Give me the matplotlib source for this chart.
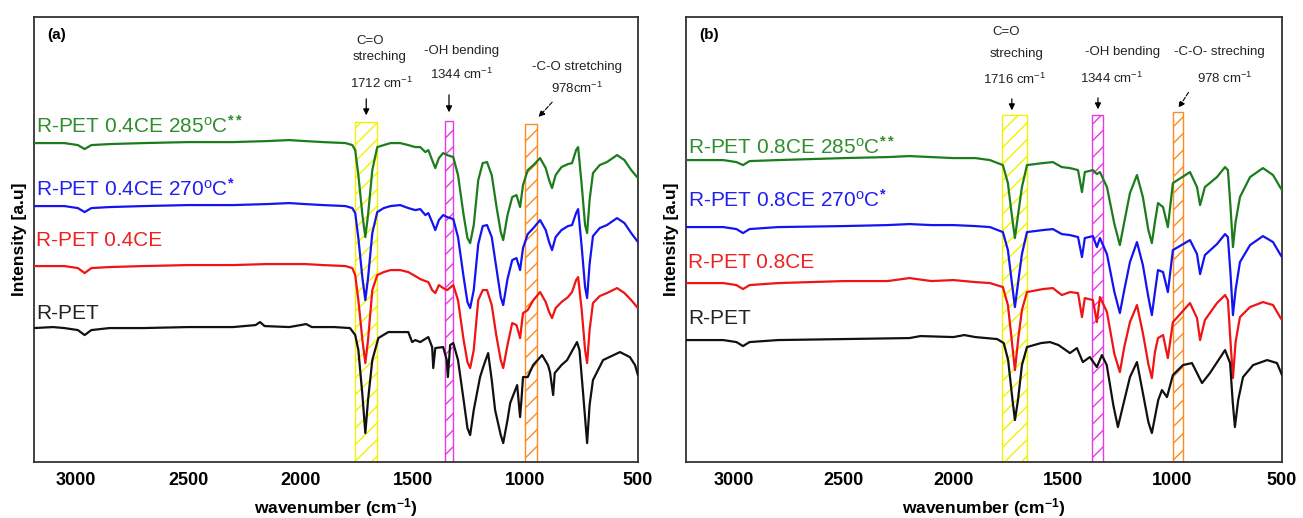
import matplotlib

matplotlib.use("Agg")
import matplotlib.pyplot as plt
from matplotlib.patches import Rectangle

plt.rcParams["font.family"] = ["Liberation Sans", "DejaVu Sans"]
plt.rcParams["mathtext.fontset"] = "custom"
plt.rcParams["mathtext.rm"] = "Liberation Sans"
plt.rcParams["mathtext.it"] = "Liberation Sans:italic"
plt.rcParams["mathtext.bf"] = "Liberation Sans:bold"
plt.rcParams["hatch.linewidth"] = 1.0

# ---- panel (a): 0.4CE ----
a_wn = [3185, 3050, 2990, 2960, 2930, 2850, 2700, 2500, 2300, 2150,
        2050, 1980, 1900, 1800, 1770, 1757, 1743, 1725, 1712, 1700,
        1681, 1659, 1630, 1600, 1557, 1521, 1490, 1468, 1445, 1432,
        1415, 1401, 1385, 1366, 1348, 1321, 1300, 1275, 1258, 1246,
        1230, 1210, 1190, 1171, 1150, 1130, 1110, 1099, 1080, 1059,
        1040, 1024, 1011, 990, 965, 935, 910, 895, 882, 866,
        840, 811, 793, 775, 766, 750, 735, 726, 715, 700,
        670, 638, 593, 560, 530, 500]
a_green = [319, 319, 317, 313, 317, 318, 319, 320, 320, 321,
           322, 321, 320, 319, 317, 312, 287, 247, 225, 247,
           292, 315, 317, 319, 319, 317, 315, 315, 310, 312,
           302, 294, 304, 309, 307, 305, 287, 247, 224, 219,
           237, 282, 299, 300, 287, 257, 230, 222, 247, 265,
           267, 255, 277, 292, 297, 304, 294, 282, 274, 287,
           295, 298, 299, 312, 315, 277, 237, 229, 262, 289,
           297, 300, 307, 302, 292, 284]
a_blue = [256, 256, 254, 250, 254, 255, 256, 257, 257, 258,
          259, 258, 257, 256, 254, 249, 224, 184, 162, 184,
          229, 250, 254, 256, 257, 254, 252, 253, 247, 249,
          240, 232, 242, 247, 245, 243, 225, 185, 160, 154,
          172, 218, 236, 237, 225, 195, 165, 157, 183, 202,
          204, 192, 214, 228, 234, 242, 232, 220, 212, 225,
          232, 236, 237, 249, 253, 215, 175, 164, 198, 226,
          234, 237, 244, 239, 229, 220]
a_red = [196, 196, 194, 189, 194, 195, 196, 197, 197, 198,
         198, 198, 197, 196, 194, 187, 162, 122, 99, 122,
         172, 187, 190, 192, 192, 190, 186, 183, 181, 180,
         172, 169, 177, 174, 172, 177, 162, 122, 100, 94,
         112, 162, 172, 172, 157, 127, 102, 94, 117, 139,
         137, 124, 149, 152, 162, 170, 160, 150, 144, 154,
         160, 165, 170, 182, 185, 152, 112, 99, 132, 159,
         166, 169, 174, 169, 162, 154]
a_black_wn = [3185, 3100, 3050, 2990, 2960, 2930, 2850, 2700, 2500, 2300,
              2200, 2180, 2160, 2050, 1975, 1950, 1850, 1780, 1757, 1743,
              1725, 1712, 1700, 1681, 1654, 1610, 1557, 1521, 1504, 1490,
              1468, 1432, 1415, 1410, 1401, 1366, 1350, 1345, 1335, 1321,
              1300, 1275, 1258, 1246, 1230, 1202, 1185, 1166, 1150, 1135,
              1110, 1099, 1080, 1068, 1037, 1024, 1018, 1011, 990, 966,
              926, 900, 891, 877, 870, 840, 815, 771, 760, 745,
              726, 715, 700, 655, 580, 536, 513, 500]
a_black = [134, 135, 134, 132, 127, 132, 134, 134, 135, 135,
           137, 140, 136, 135, 138, 135, 135, 134, 127, 112,
           67, 29, 62, 102, 124, 130, 130, 130, 120, 122,
           120, 125, 115, 94, 114, 115, 102, 85, 117, 119,
           102, 62, 34, 27, 52, 85, 97, 109, 82, 52,
           27, 19, 42, 59, 77, 45, 62, 85, 85, 97,
           107, 97, 90, 67, 89, 97, 102, 120, 112, 72,
           19, 57, 82, 102, 110, 105, 97, 87]

# ---- panel (b): 0.8CE ----
b_wn = [3220, 3050, 2990, 2960, 2930, 2800, 2500, 2300, 2200, 2100,
        2000, 1900, 1833, 1774, 1751, 1735, 1719, 1703, 1687, 1664,
        1591, 1546, 1505, 1468, 1431, 1413, 1400, 1363, 1345, 1331,
        1299, 1265, 1240, 1220, 1194, 1162, 1135, 1110, 1094, 1080,
        1066, 1043, 1021, 998, 920, 888, 874, 852, 797, 760,
        747, 735, 724, 712, 692, 646, 587, 541, 509, 500]
b_green = [302, 302, 300, 297, 301, 302, 304, 305, 306, 305,
           304, 304, 302, 297, 279, 250, 224, 250, 275, 297,
           299, 300, 295, 294, 292, 270, 290, 292, 288, 290,
           275, 238, 217, 240, 269, 287, 265, 232, 219, 240,
           259, 255, 235, 279, 290, 275, 257, 275, 285, 295,
           292, 255, 215, 240, 265, 285, 294, 287, 275, 272]
b_blue = [235, 235, 233, 229, 233, 235, 236, 237, 238, 237,
          237, 236, 235, 230, 212, 183, 155, 182, 208, 230,
          232, 233, 228, 227, 225, 205, 224, 226, 215, 224,
          208, 170, 149, 172, 200, 220, 197, 165, 147, 170,
          192, 190, 170, 212, 222, 208, 188, 207, 218, 228,
          225, 188, 147, 172, 200, 217, 226, 220, 208, 205]
b_red = [179, 179, 177, 173, 177, 179, 181, 181, 184, 181,
         182, 180, 179, 175, 157, 125, 92, 125, 152, 170,
         173, 174, 167, 170, 169, 145, 164, 162, 140, 165,
         150, 108, 90, 115, 140, 157, 129, 98, 84, 110,
         124, 127, 104, 140, 159, 144, 122, 142, 159, 167,
         162, 120, 84, 120, 145, 155, 160, 157, 145, 142]
b_black_wn = [3220, 3050, 2990, 2960, 2930, 2800, 2500, 2200, 2150, 2000,
              1950, 1900, 1800, 1770, 1750, 1730, 1719, 1705, 1687, 1664,
              1600, 1559, 1520, 1468, 1436, 1409, 1377, 1345, 1322, 1300,
              1270, 1249, 1225, 1194, 1162, 1135, 1110, 1094, 1065, 1048,
              1025, 998, 952, 911, 865, 829, 760, 737, 725, 715,
              700, 678, 632, 568, 523, 500]
b_black = [122, 122, 120, 116, 120, 122, 123, 124, 126, 125,
           127, 125, 123, 119, 102, 62, 42, 62, 97, 115,
           119, 120, 117, 109, 114, 100, 105, 95, 107, 97,
           57, 35, 57, 85, 100, 69, 40, 29, 62, 72,
           65, 87, 97, 99, 79, 89, 112, 99, 60, 35,
           62, 85, 97, 102, 99, 87]

colors = ["#1c7c1c", "#1414f0", "#f01414", "#111111"]
label_colors = ["#2e8e2e", "#2020f0", "#f02020", "#222222"]
a_names = ["R-PET 0.4CE 285$^{\\mathrm{o}}$C", "R-PET 0.4CE 270$^{\\mathrm{o}}$C",
           "R-PET 0.4CE", "R-PET"]
b_names = ["R-PET 0.8CE 285$^{\\mathrm{o}}$C", "R-PET 0.8CE 270$^{\\mathrm{o}}$C",
           "R-PET 0.8CE", "R-PET"]
stars = ["**", "*", "", ""]
a_label_y = [336, 273, 222, 149]
b_label_y = [315, 262, 200, 144]

band_colors = ["#f2f200", "#e838e8", "#ff8a20"]
a_bands = [(1757, 1659, 340), (1357, 1321, 341), (1002, 948, 338)]
b_bands = [(1778, 1664, 347), (1368, 1317, 347), (998, 952, 350)]

xticks = [3000, 2500, 2000, 1500, 1000, 500]

fig = plt.figure(figsize=(13.03, 5.18), dpi=100)
ax_a = fig.add_axes([0.0261, 0.108, 0.4635, 0.859])
ax_b = fig.add_axes([0.5265, 0.108, 0.4574, 0.859])


def draw_panel(ax, xlim, series, names, label_y, bands, tag):
    for (hi, lo, top), c in zip(bands, band_colors):
        ax.add_patch(Rectangle((lo, 0), hi - lo, top, facecolor="none",
                               edgecolor=c, hatch="//", lw=1.0, zorder=1))
    for (wn, y), c in zip(series, colors):
        ax.plot(wn, y, color=c, lw=1.6, zorder=3)
    for name, st, ly, c in zip(names, stars, label_y, label_colors):
        txt = name + ("$^{\\mathbf{" + st + "}}$" if st else "")
        ax.text(0.003, ly, txt, transform=ax.get_yaxis_transform(),
                color=c, fontsize=15, va="center", ha="left", zorder=4)
    ax.text(0.022, 0.975, tag, transform=ax.transAxes, fontsize=11,
            fontweight="bold", va="top", ha="left")
    ax.set_xlim(*xlim)
    ax.set_ylim(0, 445)
    ax.set_xticks(xticks)
    ax.set_yticks([])
    ax.tick_params(axis="x", length=0, pad=7, labelsize=13)
    for lab in ax.get_xticklabels():
        lab.set_fontweight("bold")
    ax.set_xlabel("wavenumber (cm$^{\\mathbf{-1}}$)", fontsize=12.5,
                  fontweight="bold", labelpad=5)
    ax.set_ylabel("Intensity [a.u]", fontsize=12.5, fontweight="bold",
                  labelpad=5)
    for sp in ax.spines.values():
        sp.set_color("#333333")
        sp.set_linewidth(1.3)


draw_panel(ax_a, (3185, 500),
           [(a_wn, a_green), (a_wn, a_blue), (a_wn, a_red), (a_black_wn, a_black)],
           a_names, a_label_y, a_bands, "(a)")
draw_panel(ax_b, (3220, 500),
           [(b_wn, b_green), (b_wn, b_blue), (b_wn, b_red), (b_black_wn, b_black)],
           b_names, b_label_y, b_bands, "(b)")

note = dict(fontsize=9.5, ha="center", va="center", color="#222222")
solid = dict(arrowstyle="-|>", color="black", lw=0.9, mutation_scale=9)
dashed = dict(arrowstyle="-|>", color="black", lw=0.8, ls="--", mutation_scale=9)

# band annotations, panel (a)
ax_a.text(1690, 421, "C=O", **note)
ax_a.text(1650, 405, "streching", **note)
ax_a.text(1641, 379, "1712 cm$^{-1}$", **note)
ax_a.annotate("", xy=(1708, 344), xytext=(1708, 366), arrowprops=solid)
ax_a.text(1282, 411, "-OH bending", **note)
ax_a.text(1282, 388, "1344 cm$^{-1}$", **note)
ax_a.annotate("", xy=(1340, 347), xytext=(1340, 370), arrowprops=solid)
ax_a.text(771, 395, "-C-O stretching", **note)
ax_a.text(771, 374, "978cm$^{-1}$", **note)
ax_a.annotate("", xy=(950, 343), xytext=(873, 362), arrowprops=dashed)

# band annotations, panel (b)
ax_b.text(1760, 430, "C=O", **note)
ax_b.text(1710, 408, "streching", **note)
ax_b.text(1719, 383, "1716 cm$^{-1}$", **note)
ax_b.annotate("", xy=(1733, 349), xytext=(1733, 366), arrowprops=solid)
ax_b.text(1226, 410, "-OH bending", **note)
ax_b.text(1276, 384, "1344 cm$^{-1}$", **note)
ax_b.annotate("", xy=(1340, 350), xytext=(1340, 367), arrowprops=solid)
ax_b.text(788, 410, "-C-O- streching", **note)
ax_b.text(760, 384, "978 cm$^{-1}$", **note)
ax_b.annotate("", xy=(979, 352), xytext=(920, 372), arrowprops=dashed)

fig.savefig("out.png", dpi=100)
